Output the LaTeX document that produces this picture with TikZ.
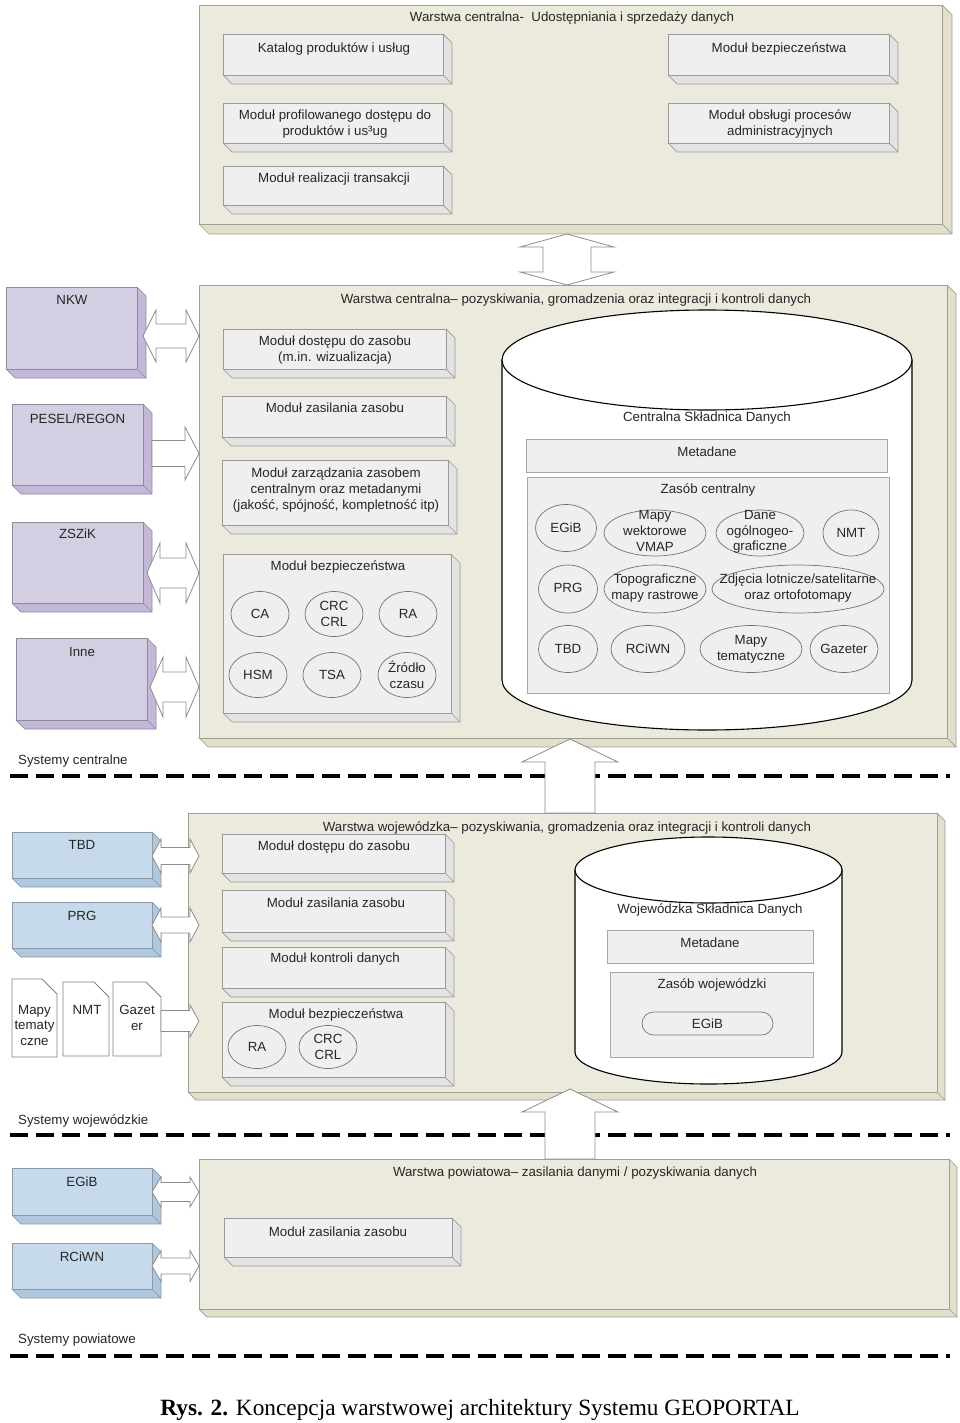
\documentclass[tikz,border=0pt]{standalone}
\usepackage{fontspec}
\setmainfont{Liberation Sans}
\newfontfamily\capfont{Liberation Serif}
\usetikzlibrary{shapes.geometric}
\definecolor{layF}{HTML}{ECEADD}
\definecolor{layS}{HTML}{E2DFCC}
\definecolor{layB}{HTML}{A09E90}
\definecolor{modF}{HTML}{EFEFEF}
\definecolor{modS}{HTML}{E3E3E3}
\definecolor{modB}{HTML}{9A9A9A}
\definecolor{purF}{HTML}{D4CEE3}
\definecolor{purS}{HTML}{C4B8D8}
\definecolor{purB}{HTML}{8E8A9A}
\definecolor{bluF}{HTML}{C6DAEB}
\definecolor{bluS}{HTML}{B0C8DE}
\definecolor{bluB}{HTML}{8A9AA8}
% 3D box: name, x1, y1, x2, y2, depth, front, side, border
\newcommand\tdbox[9]{%
  \filldraw[fill=#8, draw=#9, line width=0.7pt, line join=round] (#4,#3) -- (#4+#6,#3+#6) -- (#4+#6,#5+#6) -- (#2+#6,#5+#6) -- (#2,#5) -- (#4,#5) -- cycle;
  \draw[draw=#9, line width=0.7pt] (#4,#5) -- (#4+#6,#5+#6);
  \node[fill=#7, draw=#9, line width=0.7pt, inner sep=0pt, anchor=north west, minimum width={#4-#2}, minimum height={#5-#3}] (#1) at (#2,#3) {};
}
% double horizontal block arrow: xL xR yc headhalf shafthalf headlen
\newcommand\dblH[6]{%
  \filldraw[barrow] (#1,#3) -- (#1+#6,#3-#4) -- (#1+#6,#3-#5) -- (#2-#6,#3-#5) -- (#2-#6,#3-#4) -- (#2,#3) -- (#2-#6,#3+#4) -- (#2-#6,#3+#5) -- (#1+#6,#3+#5) -- (#1+#6,#3+#4) -- cycle;}
% right block arrow
\newcommand\rgtA[6]{%
  \filldraw[barrow] (#1,#3-#5) -- (#2-#6,#3-#5) -- (#2-#6,#3-#4) -- (#2,#3) -- (#2-#6,#3+#4) -- (#2-#6,#3+#5) -- (#1,#3+#5) -- cycle;}
% double vertical block arrow: yT yB xc headhalf shafthalf headlen
\newcommand\dblV[6]{%
  \filldraw[barrow] (#3,#1) -- (#3+#4,#1+#6) -- (#3+#5,#1+#6) -- (#3+#5,#2-#6) -- (#3+#4,#2-#6) -- (#3,#2) -- (#3-#4,#2-#6) -- (#3-#5,#2-#6) -- (#3-#5,#1+#6) -- (#3-#4,#1+#6) -- cycle;}
% up block arrow
\newcommand\upA[6]{%
  \filldraw[barrow] (#3,#1) -- (#3+#4,#1+#6) -- (#3+#5,#1+#6) -- (#3+#5,#2) -- (#3-#5,#2) -- (#3-#5,#1+#6) -- (#3-#4,#1+#6) -- cycle;}
\begin{document}
\begin{tikzpicture}[x=1pt,y=-1pt,
  lbl/.style={font=\fontsize{13.3}{15.8}\selectfont, align=center, inner sep=0pt, text=black!85},
  lftlbl/.style={lbl, anchor=west},
  barrow/.style={fill=white, draw=black!45, line width=0.8pt, line join=miter},
  ell/.style={ellipse, draw=black!55, line width=0.7pt, inner sep=0pt},
  ibox/.style={fill=modF, draw=black!35, line width=0.8pt, inner sep=0pt, anchor=north west},
  sepline/.style={line width=3.6pt, dash pattern=on 18pt off 8pt},
  doc/.style={fill=white, draw=black!50, line width=0.8pt, line join=round},
  cyl/.style={fill=white, draw=black, line width=1.1pt}
]
\useasboundingbox (0,0) rectangle (960,1423);
\fill[white] (0,0) rectangle (960,1423);

% separator lines
\draw[sepline] (10,776) -- (950,776);
\draw[sepline] (10,1135) -- (950,1135);
\draw[sepline] (10,1356) -- (950,1356);
\node[lftlbl] (sc) at (18,761) {Systemy centralne};
\node[lftlbl] (sw) at (18,1121) {Systemy wojewódzkie};
\node[lftlbl] (sp) at (18,1340) {Systemy powiatowe};

% ---------- Layer 1 ----------
\tdbox{L1}{199}{5}{942}{224}{10}{layF}{layS}{layB}
\node[lbl] (tL1) at (572,18) {Warstwa centralna-\ \ Udostępniania i sprzedaży danych};
\tdbox{M11}{223}{34}{443}{75}{9}{modF}{modS}{modB}
\tdbox{M12}{668}{34}{889}{75}{9}{modF}{modS}{modB}
\tdbox{M13}{223}{103}{443}{143}{9}{modF}{modS}{modB}
\tdbox{M14}{668}{103}{889}{143}{9}{modF}{modS}{modB}
\tdbox{M15}{223}{166}{443}{205}{9}{modF}{modS}{modB}
\node[lbl] (tM11) at (334,49) {Katalog produktów i usług};
\node[lbl] (tM12) at (779,49) {Moduł bezpieczeństwa};
\node[lbl] (tM13) at (335,124) {Moduł profilowanego dostępu do\\produktów i us³ug};
\node[lbl] (tM14) at (780,124) {Moduł obsługi procesów\\administracyjnych};
\node[lbl] (tM15) at (334,179) {Moduł realizacji transakcji};

% ---------- Layer 2 ----------
\tdbox{L2}{199}{285}{947}{738}{9}{layF}{layS}{layB}
\node[lbl] (tL2) at (576,300) {Warstwa centralna– pozyskiwania, gromadzenia oraz integracji i kontroli danych};
\tdbox{M21}{223}{329}{446}{369}{9}{modF}{modS}{modB}
\tdbox{M22}{222}{396}{446}{437}{9}{modF}{modS}{modB}
\tdbox{M23}{222}{460}{448}{525}{9}{modF}{modS}{modB}
\tdbox{M24}{223}{554}{451}{713}{9}{modF}{modS}{modB}
\node[lbl] (tM21) at (335,350) {Moduł dostępu do zasobu\\(m.in. wizualizacja)};
\node[lbl] (tM22) at (335,408) {Moduł zasilania zasobu};
\node[lbl] (tM23) at (336,490) {Moduł zarządzania zasobem\\centralnym oraz metadanymi\\(jakość, spójność, kompletność itp)};
\node[lbl] (tM24) at (338,567) {Moduł bezpieczeństwa};
\node[ell, minimum width=58, minimum height=45] (ca) at (260,614) {};
\node[ell, minimum width=58, minimum height=45] (crc) at (334,614) {};
\node[ell, minimum width=58, minimum height=45] (ra) at (408,614) {};
\node[ell, minimum width=58, minimum height=45] (hsm) at (258,675) {};
\node[ell, minimum width=58, minimum height=45] (tsa) at (332,675) {};
\node[ell, minimum width=58, minimum height=45] (zr) at (407,675) {};
\node[lbl] (tca) at (ca) {CA};
\node[lbl] (tcrc) at (crc) {CRC\\CRL};
\node[lbl] (tra) at (ra) {RA};
\node[lbl] (thsm) at (hsm) {HSM};
\node[lbl] (ttsa) at (tsa) {TSA};
\node[lbl] (tzr) at (zr) {Źródło\\czasu};

% Central cylinder
\filldraw[cyl] (502,360) -- (502,680) .. controls (502,707.6) and (593.8,730) .. (707,730) .. controls (820.2,730) and (912,707.6) .. (912,680) -- (912,360) -- cycle;
\filldraw[cyl] (707,360) ellipse [x radius=205, y radius=50];
\node[lbl] (tcsd) at (707,418) {Centralna Składnica Danych};
\node[ibox, minimum width=361, minimum height=33] (meta1) at (526,439) {};
\node[lbl] (tmeta1) at (707,452) {Metadane};
\node[ibox, minimum width=362, minimum height=216] (zas1) at (527,477) {};
\node[lbl] (tzas1) at (708,490) {Zasób centralny};
\node[ell, minimum width=61, minimum height=47] (egib1) at (566,528) {};
\node[ell, minimum width=102, minimum height=46] (vmap) at (655,533) {};
\node[ell, minimum width=88, minimum height=46] (dane) at (760,533) {};
\node[ell, minimum width=56, minimum height=46] (nmt1) at (851,533) {};
\node[ell, minimum width=59, minimum height=48] (prg1) at (568,589) {};
\node[ell, minimum width=102, minimum height=48] (topo) at (655,589) {};
\node[ell, minimum width=172, minimum height=48] (zdj) at (798,589) {};
\node[ell, minimum width=59, minimum height=47] (tbd1) at (568,649) {};
\node[ell, minimum width=74, minimum height=47] (rciwn1) at (648,649) {};
\node[ell, minimum width=102, minimum height=47] (mtem) at (751,649) {};
\node[ell, minimum width=68, minimum height=47] (gaz) at (844,649) {};
\node[lbl] (tegib1) at (egib1) {EGiB};
\node[lbl] (tvmap) at (655,531) {Mapy\\wektorowe\\VMAP};
\node[lbl] (tdane) at (760,532) {Dane\\ogólnogeo-\\graficzne};
\node[lbl] (tnmt1) at (nmt1) {NMT};
\node[lbl] (tprg1) at (568,588) {PRG};
\node[lbl] (ttopo) at (655,588) {Topograficzne\\mapy rastrowe};
\node[lbl] (tzdj) at (798,588) {Zdjęcia lotnicze/satelitarne\\oraz ortofotomapy};
\node[lbl] (ttbd1) at (tbd1) {TBD};
\node[lbl] (trciwn1) at (rciwn1) {RCiWN};
\node[lbl] (tmtem) at (mtem) {Mapy\\tematyczne};
\node[lbl] (tgaz) at (gaz) {Gazeter};

% Left purple systems
\tdbox{NKW}{6}{287}{137}{369}{9}{purF}{purS}{purB}
\tdbox{PESEL}{12}{404}{143}{485}{9}{purF}{purS}{purB}
\tdbox{ZSZIK}{12}{522}{143}{603}{9}{purF}{purS}{purB}
\tdbox{INNE}{16}{638}{147}{720}{9}{purF}{purS}{purB}
\node[lbl] (tNKW) at (72,300) {NKW};
\node[lbl] (tPESEL) at (77.5,419) {PESEL/REGON};
\node[lbl] (tZSZIK) at (77.5,534) {ZSZiK};
\node[lbl] (tINNE) at (82,652) {Inne};
\dblH{143}{199}{336}{26}{12}{13}
\rgtA{152}{199}{453.5}{26.5}{13}{14}
\dblH{147}{199}{573}{30}{15}{13}
\dblH{150}{199}{687}{30}{15}{13}
\dblV{234}{285}{567}{47}{24}{13}

% ---------- Layer 3 ----------
\tdbox{L3}{188}{813}{937}{1092}{8}{layF}{layS}{layB}
\node[lbl] (tL3) at (567,828) {Warstwa wojewódzka– pozyskiwania, gromadzenia oraz integracji i kontroli danych};
\tdbox{M31}{222}{834}{445}{873}{9}{modF}{modS}{modB}
\tdbox{M32}{222}{890}{445}{932}{9}{modF}{modS}{modB}
\tdbox{M33}{222}{947}{445}{988}{9}{modF}{modS}{modB}
\tdbox{M34}{222}{1002}{445}{1077}{9}{modF}{modS}{modB}
\node[lbl] (tM31) at (334,847) {Moduł dostępu do zasobu};
\node[lbl] (tM32) at (336,903) {Moduł zasilania zasobu};
\node[lbl] (tM33) at (335,959) {Moduł kontroli danych};
\node[lbl] (tM34) at (336,1015) {Moduł bezpieczeństwa};
\node[ell, minimum width=58, minimum height=43] (ra2) at (257,1047) {};
\node[ell, minimum width=58, minimum height=43] (crc2) at (328,1047) {};
\node[lbl] (tra2) at (ra2) {RA};
\node[lbl] (tcrc2) at (crc2) {CRC\\CRL};

% Wojewodzka cylinder
\filldraw[cyl] (575,870) -- (575,1052) .. controls (575,1069.7) and (634.8,1084) .. (708.5,1084) .. controls (782.2,1084) and (842,1069.7) .. (842,1052) -- (842,870) -- cycle;
\filldraw[cyl] (708.5,870) ellipse [x radius=133.5, y radius=33];
\node[lbl] (twsd) at (710,910) {Wojewódzka Składnica Danych};
\node[ibox, minimum width=206, minimum height=33] (meta2) at (607,930) {};
\node[lbl] (tmeta2) at (710,943) {Metadane};
\node[ibox, minimum width=203, minimum height=85] (zas2) at (610,972) {};
\node[lbl] (tzas2) at (712,985) {Zasób wojewódzki};
\node[draw=black!55, line width=0.7pt, rounded corners=11.5pt, minimum width=131, minimum height=23, inner sep=0pt] (egib2) at (707.5,1023.5) {};
\node[lbl] (tegib2) at (egib2) {EGiB};

% blue systems (wojewodzkie)
\tdbox{BTBD}{12}{832}{152}{878}{9}{bluF}{bluS}{bluB}
\tdbox{BPRG}{12}{902}{152}{948}{9}{bluF}{bluS}{bluB}
\node[lbl] (tBTBD) at (82,845) {TBD};
\node[lbl] (tBPRG) at (82,916) {PRG};
% documents
\filldraw[doc] (12,979) -- (42,979) -- (57,994) -- (57,1057) -- (12,1057) -- cycle;
\filldraw[doc] (63,982) -- (94,982) -- (109,997) -- (109,1056) -- (63,1056) -- cycle;
\filldraw[doc] (113,982) -- (146,982) -- (161,997) -- (161,1056) -- (113,1056) -- cycle;
\node[lbl, font=\fontsize{13.3}{15.5}\selectfont] (td1) at (34.5,1025) {Mapy\\tematy\\czne};
\node[lbl] (td2) at (87,1010) {NMT};
\node[lbl, font=\fontsize{13.3}{16}\selectfont] (td3) at (137,1018) {Gazet\\er};
\dblH{152}{199}{856}{17}{8.5}{9}
\dblH{152}{199}{925}{17}{8}{9}
\rgtA{161}{199}{1021}{16}{10.5}{9}
\upA{739}{813}{570}{48}{25}{23}

% ---------- Layer 4 ----------
\tdbox{L4}{199}{1159}{949}{1309}{8}{layF}{layS}{layB}
\node[lbl] (tL4) at (575,1173) {Warstwa powiatowa– zasilania danymi / pozyskiwania danych};
\tdbox{M41}{224}{1218}{452}{1257}{9}{modF}{modS}{modB}
\node[lbl] (tM41) at (338,1232) {Moduł zasilania zasobu};
\tdbox{BEGIB}{12}{1168}{152}{1215}{9}{bluF}{bluS}{bluB}
\tdbox{BRCIWN}{12}{1243}{152}{1289}{9}{bluF}{bluS}{bluB}
\node[lbl] (tBEGIB) at (82,1182) {EGiB};
\node[lbl] (tBRCIWN) at (82,1257) {RCiWN};
\dblH{152}{199}{1192}{15}{9.5}{9}
\dblH{152}{199}{1266}{15.5}{8}{9}
\upA{1089}{1159}{570}{48}{25}{23}

% caption
\node[inner sep=0pt, font=\capfont\fontsize{23.3}{28}\selectfont] (cap) at (480,1410) {\textbf{Rys. 2.} Koncepcja warstwowej architektury Systemu GEOPORTAL};
\end{tikzpicture}
\end{document}
